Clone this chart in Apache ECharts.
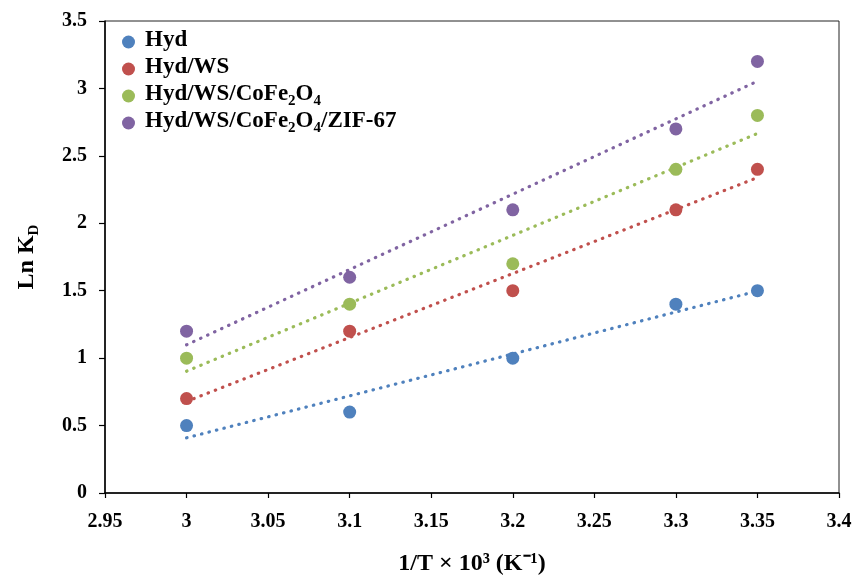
<!DOCTYPE html>
<html>
<head>
<meta charset="utf-8">
<script src="https://cdn.jsdelivr.net/npm/echarts@6/dist/echarts.min.js"></script>
<style>
html,body{margin:0;padding:0;background:#fff;}
#chart{width:855px;height:581px;}
</style>
</head>
<body>
<div id="chart"></div>
<script>
// ---- data ----
const xValues = [3, 3.1, 3.2, 3.3, 3.35];
const seriesNames = ['Hyd', 'Hyd/WS', 'Hyd/WS/CoFe2O4', 'Hyd/WS/CoFe2O4/ZIF-67'];
const hyd = [0.5, 0.6, 1.0, 1.4, 1.5];
const hydWS = [0.7, 1.2, 1.5, 2.1, 2.4];
const hydWSCo = [1.0, 1.4, 1.7, 2.4, 2.8];
const hydWSCoZif = [1.2, 1.6, 2.1, 2.7, 3.2];
const xTicks = [2.95, 3, 3.05, 3.1, 3.15, 3.2, 3.25, 3.3, 3.35, 3.4];
const yTicks = [0, 0.5, 1, 1.5, 2, 2.5, 3, 3.5];
const colors = ['#4F81BD', '#C0504D', '#9BBB59', '#8064A2'];

const allY = [hyd, hydWS, hydWSCo, hydWSCoZif];
const FONT = '"Liberation Serif", "Times New Roman", serif';

function fit(xs, ys) {
  const n = xs.length;
  const mx = xs.reduce((a, b) => a + b, 0) / n;
  const my = ys.reduce((a, b) => a + b, 0) / n;
  let sxy = 0, sxx = 0;
  for (let i = 0; i < n; i++) { sxy += (xs[i] - mx) * (ys[i] - my); sxx += (xs[i] - mx) * (xs[i] - mx); }
  const b = sxy / sxx, a = my - b * mx;
  const x0 = xs[0], x1 = xs[n - 1];
  return [[x0, a + b * x0], [x1, a + b * x1]];
}

const series = [];
allY.forEach((ys, i) => {
  series.push({
    name: seriesNames[i],
    type: 'line',
    data: fit(xValues, ys),
    symbol: 'none',
    silent: true,
    z: 1,
    lineStyle: { color: colors[i], width: 3.2, type: [0.5, 7.2], cap: 'round' }
  });
});
allY.forEach((ys, i) => {
  series.push({
    name: seriesNames[i],
    type: 'scatter',
    data: xValues.map((x, j) => [x, ys[j]]),
    symbol: 'circle',
    symbolSize: 13,
    z: 3,
    itemStyle: { color: colors[i], opacity: 1 }
  });
});

function richName(name) {
  const parts = name.split('CoFe2O4');
  return '{p|}' + parts.map(p => p ? '{a|' + p + '}' : '')
    .join('{a|CoFe}{s|2}{a|O}{s|4}');
}

const legends = seriesNames.map((n, i) => ({
  data: [{ name: n, icon: 'circle', itemStyle: { color: colors[i] } }],
  orient: 'vertical',
  left: 122,
  top: 29 + 27 * i,
  itemWidth: 13,
  itemHeight: 13,
  padding: 0,
  selectedMode: false,
  formatter: richName,
  textStyle: {
    fontFamily: FONT, fontWeight: 'bold', fontSize: 23, color: '#000',
    rich: {
      p: { width: 5, height: 26, lineHeight: 26 },
      a: { fontFamily: FONT, fontWeight: 'bold', fontSize: 23, color: '#000', lineHeight: 26, verticalAlign: 'top' },
      s: { fontFamily: FONT, fontWeight: 'bold', fontSize: 15, color: '#000', lineHeight: 15, verticalAlign: 'top', padding: [11, 0, 0, 0] }
    }
  }
}));

const chart = echarts.init(document.getElementById('chart'), null, { renderer: 'canvas' });
chart.setOption({
  animation: false,
  color: colors,
  grid: { left: 105, right: 16, top: 21, bottom: 85, show: true, borderColor: '#222', borderWidth: 1, backgroundColor: 'transparent' },
  legend: legends,
  xAxis: {
    type: 'value',
    min: xTicks[0],
    max: xTicks[xTicks.length - 1],
    interval: 0.05,
    splitLine: { show: false },
    axisLine: { onZero: false, lineStyle: { color: '#000', width: 1.5 } },
    axisTick: { show: true, inside: false, length: 5, lineStyle: { color: '#000', width: 1.2 } },
    axisLabel: {
      margin: 19, color: '#000', fontFamily: FONT, fontWeight: 'bold', fontSize: 20,
      formatter: v => String(+v.toFixed(2))
    },
    name: '{a|1/T × 10³ (K⁻¹)}',
    nameLocation: 'middle',
    nameGap: 59,
    nameTextStyle: {
      rich: { a: { fontFamily: FONT, fontWeight: 'bold', fontSize: 24, color: '#000' } }
    }
  },
  yAxis: {
    type: 'value',
    min: yTicks[0],
    max: yTicks[yTicks.length - 1],
    interval: 0.5,
    splitLine: { show: false },
    axisLine: { onZero: false, lineStyle: { color: '#000', width: 1.5 } },
    axisTick: { show: true, inside: false, length: 6, lineStyle: { color: '#000', width: 1.2 } },
    axisLabel: {
      margin: 18, color: '#000', fontFamily: FONT, fontWeight: 'bold', fontSize: 20,
      formatter: v => String(+v.toFixed(2))
    },
    name: '{a|Ln K}{s|D}',
    nameLocation: 'middle',
    nameGap: 66,
    nameRotate: 90,
    nameTextStyle: {
      rich: {
        a: { fontFamily: FONT, fontWeight: 'bold', fontSize: 24, color: '#000', lineHeight: 24, verticalAlign: 'top' },
        s: { fontFamily: FONT, fontWeight: 'bold', fontSize: 15, color: '#000', lineHeight: 15, verticalAlign: 'top', padding: [12, 0, 0, 0] }
      }
    }
  },
  series: series
});
</script>
</body>
</html>
